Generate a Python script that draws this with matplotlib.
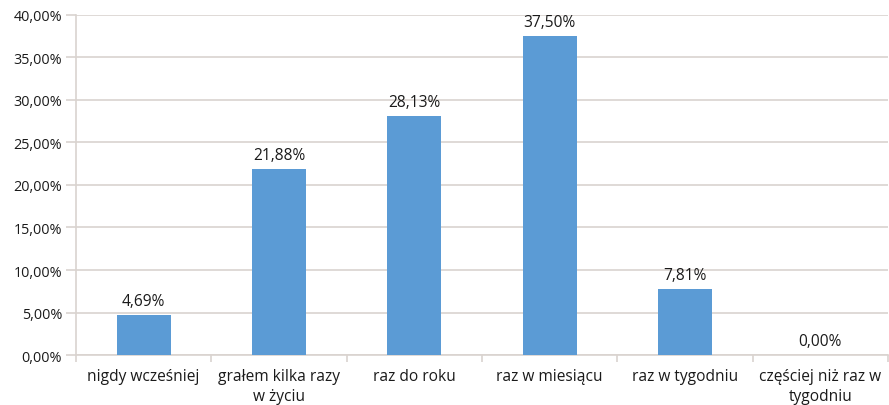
import matplotlib
matplotlib.use("Agg")
import matplotlib.pyplot as plt
from matplotlib.ticker import FuncFormatter, FixedLocator, NullFormatter

plt.rcParams['font.family'] = ['Open Sans', 'DejaVu Sans']

categories = ["nigdy wcześniej", "grałem kilka razy\nw życiu", "raz do roku",
              "raz w miesiącu", "raz w tygodniu", "częściej niż raz w\ntygodniu"]
values = [4.69, 21.88, 28.13, 37.50, 7.81, 0.00]
yticks = [0, 5, 10, 15, 20, 25, 30, 35, 40]

BAR = "#5b9bd5"
GRID = "#d9d3cf"
TEXT = "#1a1a1a"
FS = 11.2

fig = plt.figure(figsize=(8.89, 4.06), dpi=100)
ax = fig.add_axes([0.0855, 0.123, 0.9135, 0.838])

x = range(len(categories))
bars = ax.bar(x, values, width=0.4, color=BAR, zorder=3)

for xi, v in zip(x, values):
    ax.text(xi, v + 0.7, f"{v:.2f}%".replace(".", ","), ha="center", va="bottom",
            fontsize=FS, color=TEXT)

ax.set_xlim(-0.5, len(categories) - 0.5)
ax.set_ylim(0, 40)
ax.set_yticks(yticks)
ax.yaxis.set_major_formatter(FuncFormatter(lambda v, p: f"{v:.2f}%".replace(".", ",")))
ax.grid(axis="y", color=GRID, linewidth=1.2, zorder=0)

# category labels centred on bars, separator ticks between categories
ax.set_xticks(list(x))
ax.set_xticklabels(categories, fontsize=FS, color=TEXT, linespacing=1.4)
ax.tick_params(axis="x", which="major", length=0, pad=9)
ax.xaxis.set_minor_locator(FixedLocator([i - 0.5 for i in range(len(categories) + 1)]))
ax.xaxis.set_minor_formatter(NullFormatter())
ax.tick_params(axis="x", which="minor", length=5, color=GRID, width=1.2)
ax.tick_params(axis="y", length=7, color=GRID, width=1.2, labelsize=10.4,
               labelcolor=TEXT, pad=3)

for s in ["top", "right"]:
    ax.spines[s].set_visible(False)
ax.spines["left"].set_color(GRID)
ax.spines["bottom"].set_color(GRID)
ax.spines["left"].set_linewidth(1.2)
ax.spines["bottom"].set_linewidth(1.2)

fig.savefig("out.png", dpi=100, facecolor="white")
